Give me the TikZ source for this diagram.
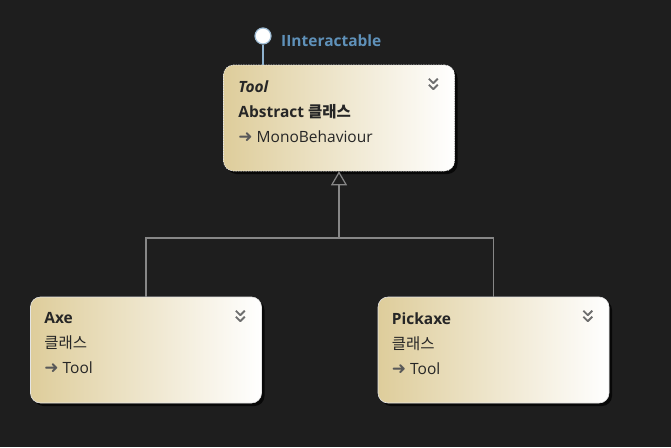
\documentclass[tikz,border=0pt]{standalone}
\usepackage{fontspec}
\setmainfont{Open Sans}
\newfontfamily\krfont{Noto Sans CJK KR}
\newfontfamily\symfont{DejaVu Sans}
\usetikzlibrary{arrows.meta,shadows}
\definecolor{bgdark}{RGB}{30,30,30}
\definecolor{boxtan}{RGB}{222,205,155}
\definecolor{edgegray}{RGB}{135,135,135}
\definecolor{ifaceblue}{RGB}{95,145,185}
\definecolor{chevgray}{RGB}{110,110,110}
\tikzset{
  classbox/.style={rounded corners=10pt, left color=boxtan, right color=white,
    draw=white!80!gray, line width=0.6pt, inner sep=0pt,
    minimum width=231pt, minimum height=106pt,
    drop shadow={shadow xshift=3pt, shadow yshift=-3pt, fill=black, opacity=0.7}},
  abstractbox/.style={classbox, dash pattern=on 1.5pt off 1pt},
  classtext/.style={anchor=north west, align=left, inner sep=0pt,
    font=\fontsize{15.5}{25}\selectfont, text=black!85},
  inherit/.style={draw=edgegray, line width=1.4pt,
    -{Triangle[open, length=14pt, width=16pt, line width=1.2pt]}},
  chevron/.style={draw=chevgray, line width=1.8pt, line join=round}
}
\newcommand{\basearrow}{{\symfont\fontsize{17}{17}\selectfont\color{black!65}➜}}
\newcommand{\chevrons}[1]{%
  \draw[chevron] ($(#1.north east)+(-26,-14)$) -- ++(4.5,-4.5) -- ++(4.5,4.5);
  \draw[chevron] ($(#1.north east)+(-26,-20)$) -- ++(4.5,-4.5) -- ++(4.5,4.5);}
\usetikzlibrary{calc}
\begin{document}
\begin{tikzpicture}[x=1pt,y=1pt]
\fill[bgdark] (0,0) rectangle (671,-447);
\useasboundingbox (0,0) rectangle (671,-447);

% classes
\node[abstractbox] (tool) at (339,-118) {};
\node[classbox] (axe) at (146,-350) {};
\node[classbox] (pickaxe) at (493.5,-350) {};

\node[classtext] (tooltext) at ($(tool.north west)+(15,-15.5)$)
  {\textbf{\textit{Tool}}\\ \textbf{Abstract {\krfont 클래스}}\\ \basearrow\ MonoBehaviour};
\node[classtext] (axetext) at ($(axe.north west)+(14,-15.5)$)
  {\textbf{Axe}\\ {\krfont 클래스}\\ \basearrow\ Tool};
\node[classtext] (pickaxetext) at ($(pickaxe.north west)+(14,-15.5)$)
  {\textbf{Pickaxe}\\ {\krfont 클래스}\\ \basearrow\ Tool};

\chevrons{tool}
\chevrons{axe}
\chevrons{pickaxe}

% interface lollipop
\node[circle, fill=white, draw=ifaceblue!60!white, line width=1.2pt,
  minimum size=16pt, inner sep=0pt] (iface) at (263,-36) {};
\draw[ifaceblue!70!white, line width=1.2pt] (iface.south) -- (iface.south |- tool.north);
\node[anchor=west, text=ifaceblue, inner sep=0pt,
  font=\fontsize{15.5}{18}\selectfont\bfseries] (ifacelabel) at (281,-41) {IInteractable};

% inheritance
\coordinate (bus) at (339,-238);
\draw[inherit] (axe.north) |- (bus) -- (tool.south);
\draw[edgegray, line width=1.4pt] (pickaxe.north) |- (bus);
\end{tikzpicture}
\end{document}
